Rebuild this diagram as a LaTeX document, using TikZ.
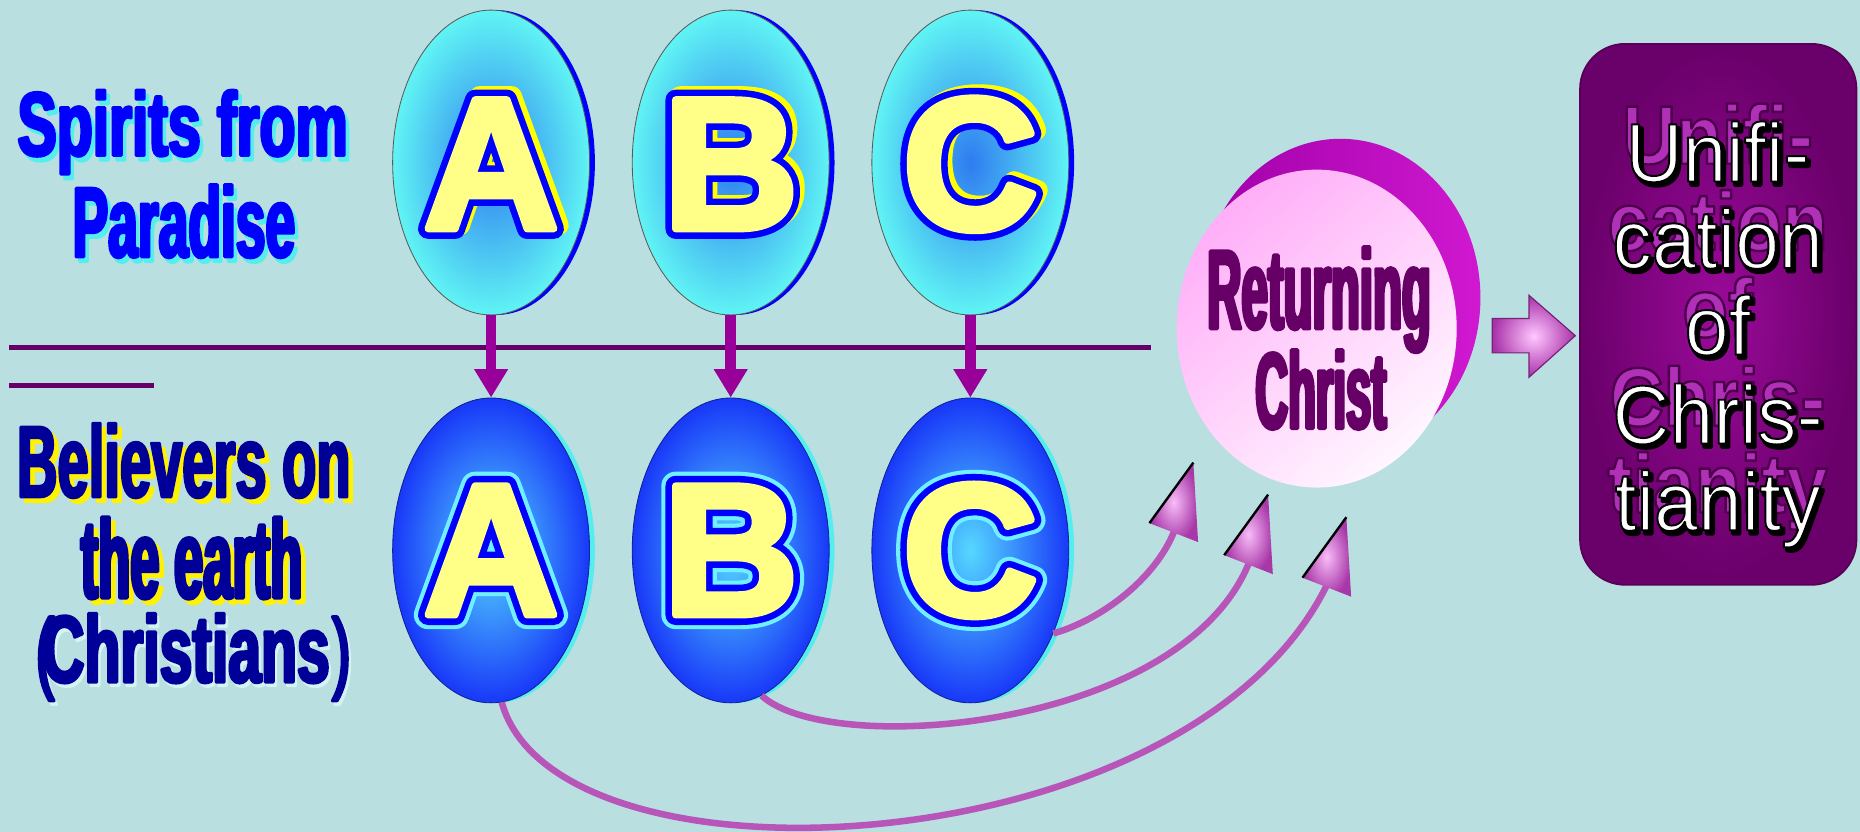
\documentclass[tikz,border=0pt]{standalone}
\usepackage{graphicx}
\usepackage{fontspec}
\setmainfont{Liberation Sans}
\newfontfamily\fSp{Liberation Sans Bold}[FakeStretch=0.653]
\newfontfamily\fPa{Liberation Sans Bold}[FakeStretch=0.536]
\newfontfamily\fBe{Liberation Sans Bold}[FakeStretch=0.55]
\newfontfamily\fTh{Liberation Sans Bold}[FakeStretch=0.471]
\newfontfamily\fCh{Liberation Sans Bold}[FakeStretch=0.62]
\newfontfamily\fPar{Liberation Sans}[FakeStretch=0.62]
\newfontfamily\fRet{Liberation Sans Bold}[FakeStretch=0.42]
\newfontfamily\fBox{Liberation Sans}[FakeStretch=0.95]
\newfontfamily\fBoxB{Liberation Sans Bold}[FakeStretch=0.9]
\usetikzlibrary{shapes.geometric,arrows.meta,shadows}
\definecolor{bg}{HTML}{B9DFE1}
\definecolor{divider}{HTML}{660066}
\definecolor{varrowc}{HTML}{990099}
\definecolor{topin}{HTML}{2F7CF0}
\definecolor{topout}{HTML}{60F4F4}
\definecolor{botin}{HTML}{55D8FF}
\definecolor{botout}{HTML}{1838F8}
\definecolor{letfill}{HTML}{FFFF88}
\definecolor{lblue}{HTML}{0000FF}
\definecolor{navy}{HTML}{000099}
\definecolor{cyansh}{HTML}{55EEEE}
\definecolor{lightsh}{HTML}{D4F4F4}
\definecolor{glow}{HTML}{70F0FF}
\definecolor{pinkA}{HTML}{FFAEF8}
\definecolor{pinkB}{HTML}{FFF6FF}
\definecolor{magA}{HTML}{A000A8}
\definecolor{magB}{HTML}{D018D0}
\definecolor{christc}{HTML}{660066}
\definecolor{boxin}{HTML}{9A0A9A}
\definecolor{boxout}{HTML}{6A006A}
\definecolor{boxedge}{HTML}{580058}
\definecolor{ghost}{HTML}{B030B8}
\definecolor{curvec}{HTML}{B855B8}
\definecolor{headin}{HTML}{F8BCF8}
\definecolor{headout}{HTML}{A838A8}
\definecolor{barin}{HTML}{FFC8FF}
\definecolor{barout}{HTML}{A830A8}
% stroked text: #1 stroke rgb, #2 stroke width, #3 text (fill = current colour)
\newcommand\stk[3]{\special{pdf:code q 2 Tr #2 w 1 j #1 RG}#3\special{pdf:code Q}}
% thickened text: stroke in the current colour
\newcommand\thk[2]{\special{pdf:code q 2 Tr #1 w 1 j}#2\special{pdf:code Q}}
\newcommand\toplet[1]{\rlap{\hspace*{4pt}\raisebox{3pt}{\color{yellow}\stk{1 1 0}{17}{#1}}}\rlap{\color{letfill}\stk{0 0 1}{17}{#1}}{\color{letfill}\stk{1 1 0.53}{6}{#1}}}
\newcommand\botlet[1]{\rlap{\color{glow}\stk{0.44 0.94 1}{24}{#1}}\rlap{\color{letfill}\stk{0 0 1}{17}{#1}}{\color{letfill}\stk{1 1 0.53}{6}{#1}}}
% shadowed thick text: #1 dx, #2 dy, #3 shadow colour, #4 main colour, #5 stroke width, #6 text
\newcommand\sht[6]{\rlap{\hspace*{#1}\raisebox{#2}{\color{#3}\thk{#5}{#6}}}{\color{#4}\thk{#5}{#6}}}
\newsavebox\tbox
\newcommand\bxl[1]{\sbox\tbox{#1}\rlap{\makebox[\wd\tbox][c]{\raisebox{15pt}{\fBoxB\color{ghost}\stk{0.3 0 0.3}{2}{#1}}}}\rlap{\hspace*{2.5pt}\raisebox{-3pt}{\color{black}\stk{0 0 0}{3}{#1}}}{\color{white}\stk{0 0 0}{1.6}{#1}}}
\tikzset{
 topell/.style={ellipse, minimum width=166pt, minimum height=257pt, inner sep=0pt, inner color=topin, outer color=topout, draw=black!65, line width=0.7pt, general shadow={shadow xshift=4.5pt, fill=lblue}},
 botell/.style={ellipse, minimum width=166pt, minimum height=257pt, inner sep=0pt, inner color=botin, outer color=botout, draw=botout!60!black, line width=0.7pt, general shadow={shadow xshift=4.5pt, fill=cyansh}},
 letter/.style={inner sep=0pt, font=\fontsize{158}{158}\selectfont\bfseries},
 lbl/.style={inner sep=0pt, anchor=base},
 varrow/.style={draw=varrowc, line width=9pt, -{Triangle[length=24pt,width=27pt]}},
 divline/.style={draw=divider, line width=4.5pt},
 curve/.style={draw=curvec, line width=5.5pt},
 headtri/.style={inner color=headin, outer color=headout},
 headedge/.style={draw=black, line width=2pt},
 christell/.style={ellipse, minimum width=236pt, minimum height=268pt, inner sep=0pt, top color=pinkA, bottom color=pinkB, shading angle=40, general shadow={shadow xshift=20pt, shadow yshift=26pt, left color=magA, right color=magB}},
 christtxt/.style={inner sep=0pt, anchor=base, text=christc},
 unibox/.style={rectangle, rounded corners=38pt, minimum width=233pt, minimum height=456pt, inner sep=0pt, inner color=boxin, outer color=boxout, draw=boxedge, line width=1.5pt},
 boxtxt/.style={inner sep=0pt, anchor=base, font=\fontsize{70}{70}\fBox},
 blockarrow/.style={inner color=barin, outer color=barout, draw=barout!70!black, line width=1pt},
}
\begin{document}
\begin{tikzpicture}[x=1pt,y=-1pt]
\useasboundingbox (0,0) rectangle (1568,701);
\fill[bg] (0,0) rectangle (1568,701);
% dividers
\coordinate (d1) at (8,293); \coordinate (d2) at (970,293);
\coordinate (d3) at (8,325); \coordinate (d4) at (130,325);
\draw[divline] (d1) -- (d2);
\draw[divline] (d3) -- (d4);
% ellipses
\node[topell] (topA) at (414,137) {};
\node[topell] (topB) at (616,137) {};
\node[topell] (topC) at (818,137) {};
\node[botell] (botA) at (414,464) {};
\node[botell] (botB) at (616,464) {};
\node[botell] (botC) at (818,464) {};
% vertical arrows
\draw[varrow] (topA.south) -- (botA.north);
\draw[varrow] (topB.south) -- (botB.north);
\draw[varrow] (topC.south) -- (botC.north);
% letters
\node[letter] (lA1) at (topA) {\toplet{A}};
\node[letter] (lB1) at (topB) {\toplet{B}};
\node[letter] (lC1) at (topC) {\toplet{C}};
\node[letter] (lA2) at (botA) {\botlet{A}};
\node[letter] (lB2) at (botB) {\botlet{B}};
\node[letter] (lC2) at (botC) {\botlet{C}};
% left labels
\node[lbl, font=\fontsize{76}{76}\fSp] (sp1) at (154,131) {\sht{3pt}{-4pt}{cyansh}{lblue}{2.6}{Spirits from}};
\node[lbl, font=\fontsize{84}{84}\fPa] (sp2) at (155,216.5) {\sht{3pt}{-4pt}{cyansh}{lblue}{2.6}{Paradise}};
\node[lbl, font=\fontsize{86}{86}\fBe] (be1) at (155,419) {\sht{4pt}{-4pt}{yellow}{navy}{2.2}{Believers on}};
\node[lbl, font=\fontsize{94}{94}\fTh] (be2) at (161.5,504) {\sht{4pt}{-4pt}{yellow}{navy}{3}{the earth}};
\node[lbl, anchor=base west, font=\fontsize{80}{80}\fCh] (be3) at (30,575) {\sht{2pt}{-3pt}{lightsh}{navy}{2.6}{{\fontsize{76}{76}\fPar(}\kern-10.5pt Christians\kern2pt{\fontsize{76}{76}\fPar)}}};
% returning christ
\node[christell] (christ) at (1110,277) {};
\node[christtxt, font=\fontsize{95}{95}\fRet] (ct1) at (1112,277) {\thk{3}{Returning}};
\node[christtxt, font=\fontsize{91}{91}\fRet] (ct2) at (1113.5,361) {\thk{3}{Christ}};
% curved connectors
\coordinate (tA) at (1135,436); \coordinate (tB) at (1069,417); \coordinate (tC) at (1006,390);
\coordinate (eA) at (1121,488); \coordinate (eB) at (1055,469); \coordinate (eC) at (992,442);
\draw[curve] (botC.-45) .. controls (930,522) and (978,485) .. (eC);
\draw[curve] (botB.-78) .. controls (700,640) and (1003,615) .. (eB);
\draw[curve] (botA.-86) .. controls (470,760) and (1010,730) .. (eA);
\shade[headtri] (tC) -- ++(-37,51) -- ++(41,16) -- cycle;
\shade[headtri] (tB) -- ++(-37,51) -- ++(41,16) -- cycle;
\shade[headtri] (tA) -- ++(-37,51) -- ++(41,16) -- cycle;
\draw[headedge] (tC) -- ++(-37,51);
\draw[headedge] (tB) -- ++(-37,51);
\draw[headedge] (tA) -- ++(-37,51);
% unification box
\node[unibox] (uni) at (1448.5,265) {};
\node[boxtxt] (u1) at (1448,153) {\bxl{Unifi-}};
\node[boxtxt] (u2) at (1448,226) {\bxl{cation}};
\node[boxtxt] (u3) at (1448,299) {\bxl{of}};
\node[boxtxt] (u4) at (1448,374) {\bxl{Chris-}};
\node[boxtxt] (u5) at (1448,447) {\bxl{tianity}};
% block arrow from christ to box
\coordinate (ba) at (1258,283);
\path[blockarrow] (ba) ++(0,-14.5) -- ++(31,0) -- ++(0,-19.5) -- ++(39,34) -- ++(-39,35) -- ++(0,-20.5) -- ++(-31,0) -- cycle;
\end{tikzpicture}
\end{document}
